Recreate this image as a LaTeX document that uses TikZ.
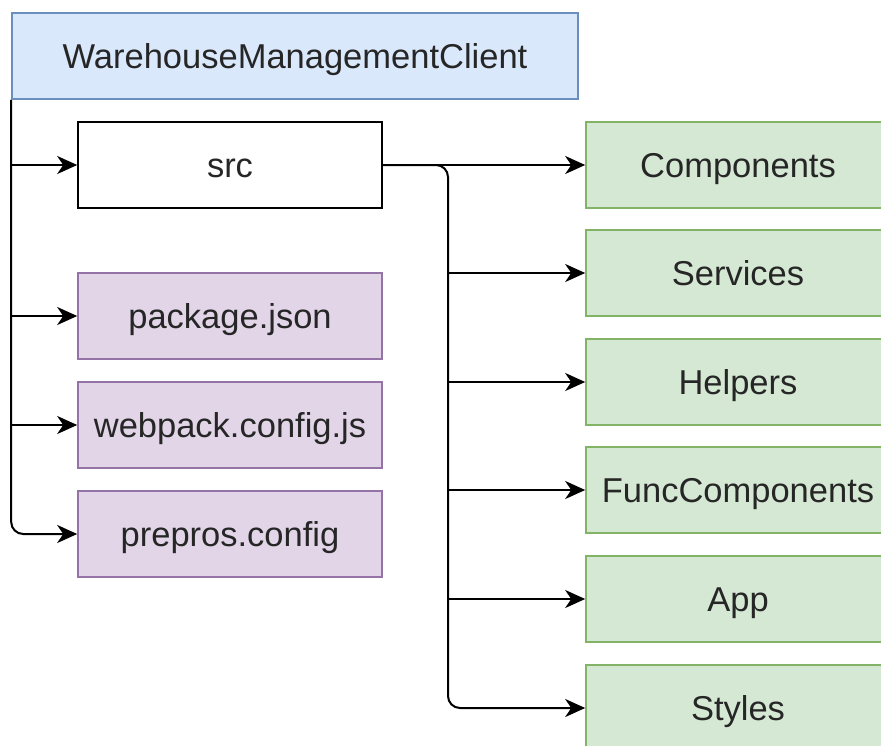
\documentclass[tikz,border=0pt]{standalone}
\usepackage{fontspec}
\setmainfont{Liberation Sans}
\usetikzlibrary{arrows.meta}
\definecolor{blueFill}{HTML}{DAE8FC}
\definecolor{blueLine}{HTML}{6C8EBF}
\definecolor{greenFill}{HTML}{D5E8D4}
\definecolor{greenLine}{HTML}{82B366}
\definecolor{purpleFill}{HTML}{E1D5E7}
\definecolor{purpleLine}{HTML}{9673A6}
\definecolor{txt}{HTML}{262626}
\tikzset{
  box/.style={draw, line width=1.6pt, minimum width=304pt, minimum height=86pt,
    inner sep=0pt, text height=26pt, text depth=2pt, text=txt,
    font=\fontsize{34.5}{40}\selectfont},
  folder/.style={box, fill=white, draw=black},
  file/.style={box, fill=purpleFill, draw=purpleLine},
  part/.style={box, fill=greenFill, draw=greenLine},
  root/.style={box, fill=blueFill, draw=blueLine, minimum width=566pt},
  conn/.style={draw=black, line width=2pt,
    -{Stealth[length=20pt, width=18pt, inset=6pt]}},
}
\begin{document}
\begin{tikzpicture}[x=1pt, y=-1pt]
\useasboundingbox (0,0) rectangle (881,745);

% project root
\node[root] (wmc) at (295,56) {WarehouseManagementClient};

% top-level entries
\node[folder] (src) at (230,165) {src};
\node[file] (pkg) at (230,316) {package.json};
\node[file] (webpack) at (230,425) {webpack.config.js};
\node[file] (prepros) at (230,534) {prepros.config};

% contents of src
\node[part] (components) at (738,165) {Components};
\node[part] (services) at (738,273) {Services};
\node[part] (helpers) at (738,382) {Helpers};
\node[part] (func) at (738,490) {FuncComponents};
\node[part] (app) at (738,599) {App};
\node[part] (styles) at (738,708) {Styles};

% left trunk
\draw[conn, rounded corners=12pt] (wmc.south west) |- (prepros.west);
\draw[conn] (wmc.south west |- src.west) -- (src.west);
\draw[conn] (wmc.south west |- pkg.west) -- (pkg.west);
\draw[conn] (wmc.south west |- webpack.west) -- (webpack.west);

% right bus from src
\coordinate (bus) at (448,165);
\draw[conn] (src.east) -- (components.west);
\draw[conn, rounded corners=12pt] (src.east) -- (bus) |- (styles.west);
\draw[conn] (bus |- services.west) -- (services.west);
\draw[conn] (bus |- helpers.west) -- (helpers.west);
\draw[conn] (bus |- func.west) -- (func.west);
\draw[conn] (bus |- app.west) -- (app.west);
\end{tikzpicture}
\end{document}
